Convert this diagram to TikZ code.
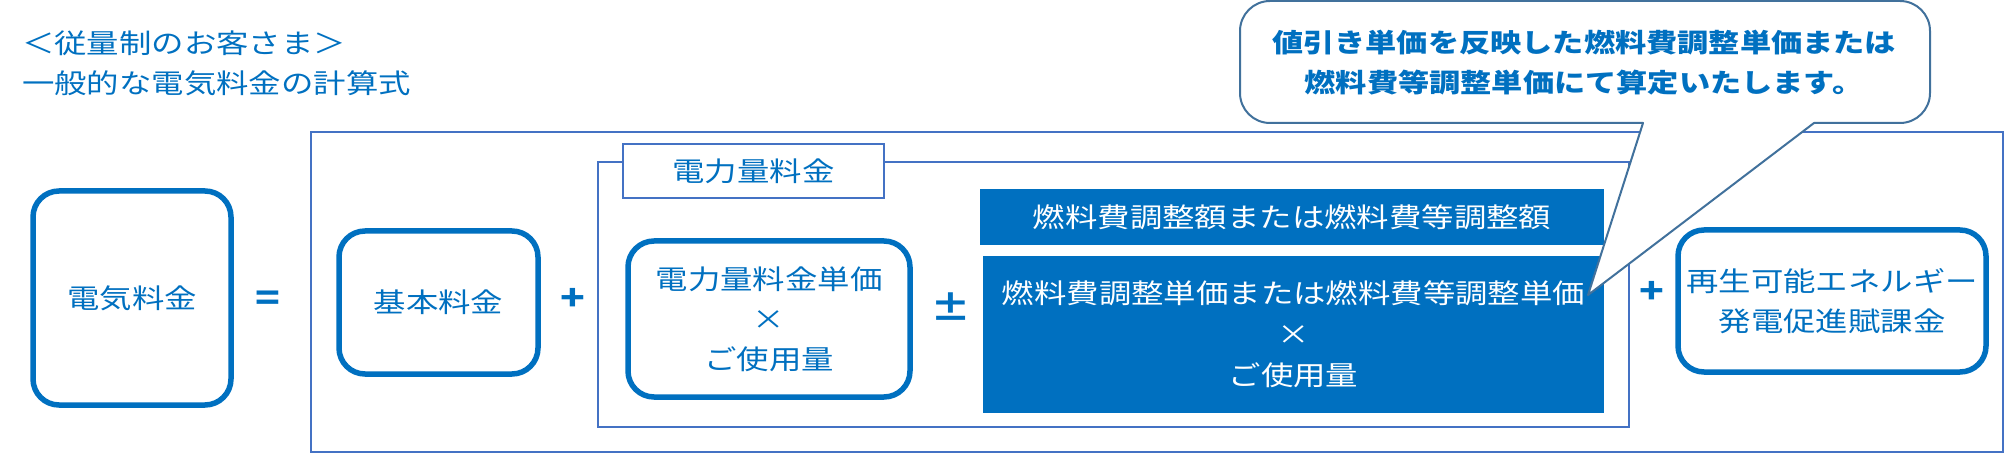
\documentclass[tikz,border=0pt]{standalone}
\usepackage{fontspec}
\newfontfamily\jp[FakeStretch=1.2]{Noto Sans CJK JP}
\definecolor{mblue}{HTML}{0070C0}
\definecolor{lblue}{HTML}{4472C4}
\definecolor{cblue}{HTML}{41719C}
\tikzset{
  thickbox/.style={draw=mblue, line width=5.5pt, rounded corners=26pt, fill=white,
    text=mblue, font=\jp\fontsize{27}{40}\selectfont, align=center, inner sep=0pt},
  thinbox/.style={draw=lblue, line width=2pt, inner sep=0pt},
  bluebox/.style={fill=mblue, draw=none, text=white, font=\jp\fontsize{27}{41}\selectfont,
    align=center, inner sep=0pt},
  txt/.style={text=mblue, font=\jp\fontsize{27}{40}\selectfont, align=left, inner sep=0pt},
  sym/.style={text=mblue, font=\jp\bfseries\fontsize{34}{40}\selectfont, inner sep=0pt},
  calloutline/.style={draw=cblue, line width=2pt, fill=white, line join=round}
}
\begin{document}
\begin{tikzpicture}[x=1pt, y=-1pt]
\useasboundingbox (0,0) rectangle (2008,454);

% title
\node[txt, anchor=west] (t1) at (22,43) {＜従量制のお客さま＞};
\node[txt, anchor=west] (t2) at (22,83) {一般的な電気料金の計算式};

% outer and group frames
\node[thinbox, minimum width=1692pt, minimum height=320pt] (outer) at (1157,292) {};
\node[thinbox, minimum width=1031pt, minimum height=265pt] (group) at (1113.5,294.5) {};
\node[thinbox, fill=white, minimum width=261pt, minimum height=54pt,
  text=mblue, font=\jp\fontsize{27}{40}\selectfont] (tab) at (753.5,171) {電力量料金};

% boxes
\node[thickbox, minimum width=198pt, minimum height=214pt] (denki) at (132,298) {電気料金};
\node[sym] (eq) at (268,301) {=};
\node[thickbox, minimum width=199pt, minimum height=143pt] (kihon) at (438.5,302.5) {基本料金};
\node[sym] (plus1) at (573,299) {+};
\node[thickbox, minimum width=282pt, minimum height=156pt] (ryokin) at (769,319) {電力量料金単価\\×\\ご使用量};
\node[sym] (pm) at (951,307) {±};
\node[bluebox, minimum width=624pt, minimum height=56pt] (bar) at (1292,217) {燃料費調整額または燃料費等調整額};
\node[bluebox, minimum width=621pt, minimum height=157pt] (big) at (1293.5,334.5) {燃料費調整単価または燃料費等調整単価\\×\\ご使用量};
\node[sym] (plus2) at (1652,292) {+};
\node[thickbox, minimum width=308pt, minimum height=142pt] (saisei) at (1832,301) {再生可能エネルギー\\発電促進賦課金};

% callout
\coordinate (ptip) at (1588,295);
\coordinate (pl) at (1643,123);
\coordinate (pr) at (1814,123);
\draw[calloutline] (pr) -- (1900,123) arc[start angle=90, end angle=0, radius=30]
  -- (1930,31) arc[start angle=0, end angle=-90, radius=30]
  -- (1270,1) arc[start angle=270, end angle=180, radius=30]
  -- (1240,93) arc[start angle=180, end angle=90, radius=30]
  -- (pl) -- (ptip) -- cycle;
\node[text=mblue, font=\jp\bfseries\fontsize{26}{40}\selectfont, align=center, inner sep=0pt]
  (note) at (1584,63) {値引き単価を反映した燃料費調整単価または\\燃料費等調整単価にて算定いたします。};
\end{tikzpicture}
\end{document}
